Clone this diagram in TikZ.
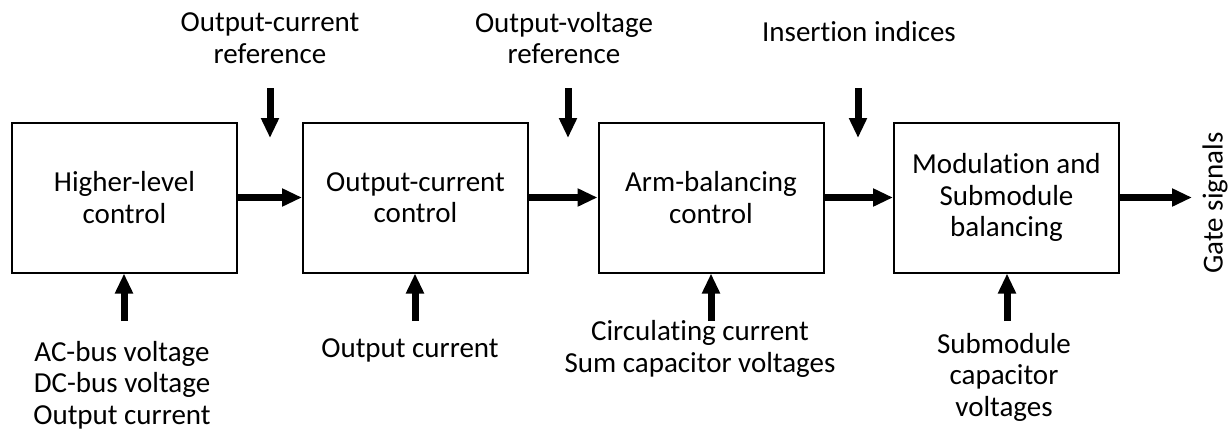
\documentclass[tikz,border=0pt]{standalone}
\usepackage{fontspec}
\setmainfont{Carlito}[RawFeature={-liga}]
\usetikzlibrary{arrows.meta}
\begin{document}
\begin{tikzpicture}[x=1pt,y=-1pt,
  blk/.style={draw,line width=2pt,minimum width=225pt,minimum height=150pt,align=center,inner sep=0pt},
  lbl/.style={align=center,inner sep=0pt},
  sig/.style={line width=7pt,-{Triangle[length=20pt,width=17pt]}},
  every node/.style={font=\fontsize{29}{31.5}\selectfont}]
\useasboundingbox (0,0) rectangle (1230,434);
\node[blk] (b1) at (124.5,197.5) {Higher-level\\control};
\node[blk] (b2) at (415.5,197.5) {Output-current\\control};
\node[blk] (b3) at (711,197.5) {Arm-balancing\\control};
\node[blk] (b4) at (1006.5,197.5) {Modulation and\\Submodule\\balancing};
\draw[sig] (b1) -- (b2);
\draw[sig] (b2) -- (b3);
\draw[sig] (b3) -- (b4);
\coordinate (gs) at (1192,197.5);
\draw[sig] (b4) -- (gs);
\node[lbl,rotate=90] (gt) at (1215,203) {Gate signals};
% top inputs
\node[lbl] (t1) at (270,38) {Output-current\\reference};
\node[lbl] (t2) at (564,38) {Output-voltage\\reference};
\node[lbl] (t3) at (859,32) {Insertion indices};
\coordinate (d1s) at (270,88); \coordinate (d1e) at (270,138);
\coordinate (d2s) at (568,88); \coordinate (d2e) at (568,138);
\coordinate (d3s) at (858,88); \coordinate (d3e) at (858,138);
\draw[sig] (d1s) -- (d1e);
\draw[sig] (d2s) -- (d2e);
\draw[sig] (d3s) -- (d3e);
% bottom inputs
\coordinate (u1) at (124,321); \coordinate (u2) at (415,321);
\coordinate (u3) at (711,321); \coordinate (u4) at (1007,321);
\draw[sig] (u1) -- (b1.south -| u1);
\draw[sig] (u2) -- (b2.south -| u2);
\draw[sig] (u3) -- (b3.south -| u3);
\draw[sig] (u4) -- (b4.south -| u4);
\node[lbl] (l1) at (122,385) {AC-bus voltage\\DC-bus voltage\\Output current};
\node[lbl] (l2) at (410,350) {Output current};
\node[lbl] (l3) at (700,349) {Circulating current\\Sum capacitor voltages};
\node[lbl] (l4) at (1004,377) {Submodule\\capacitor\\voltages};
\end{tikzpicture}
\end{document}
